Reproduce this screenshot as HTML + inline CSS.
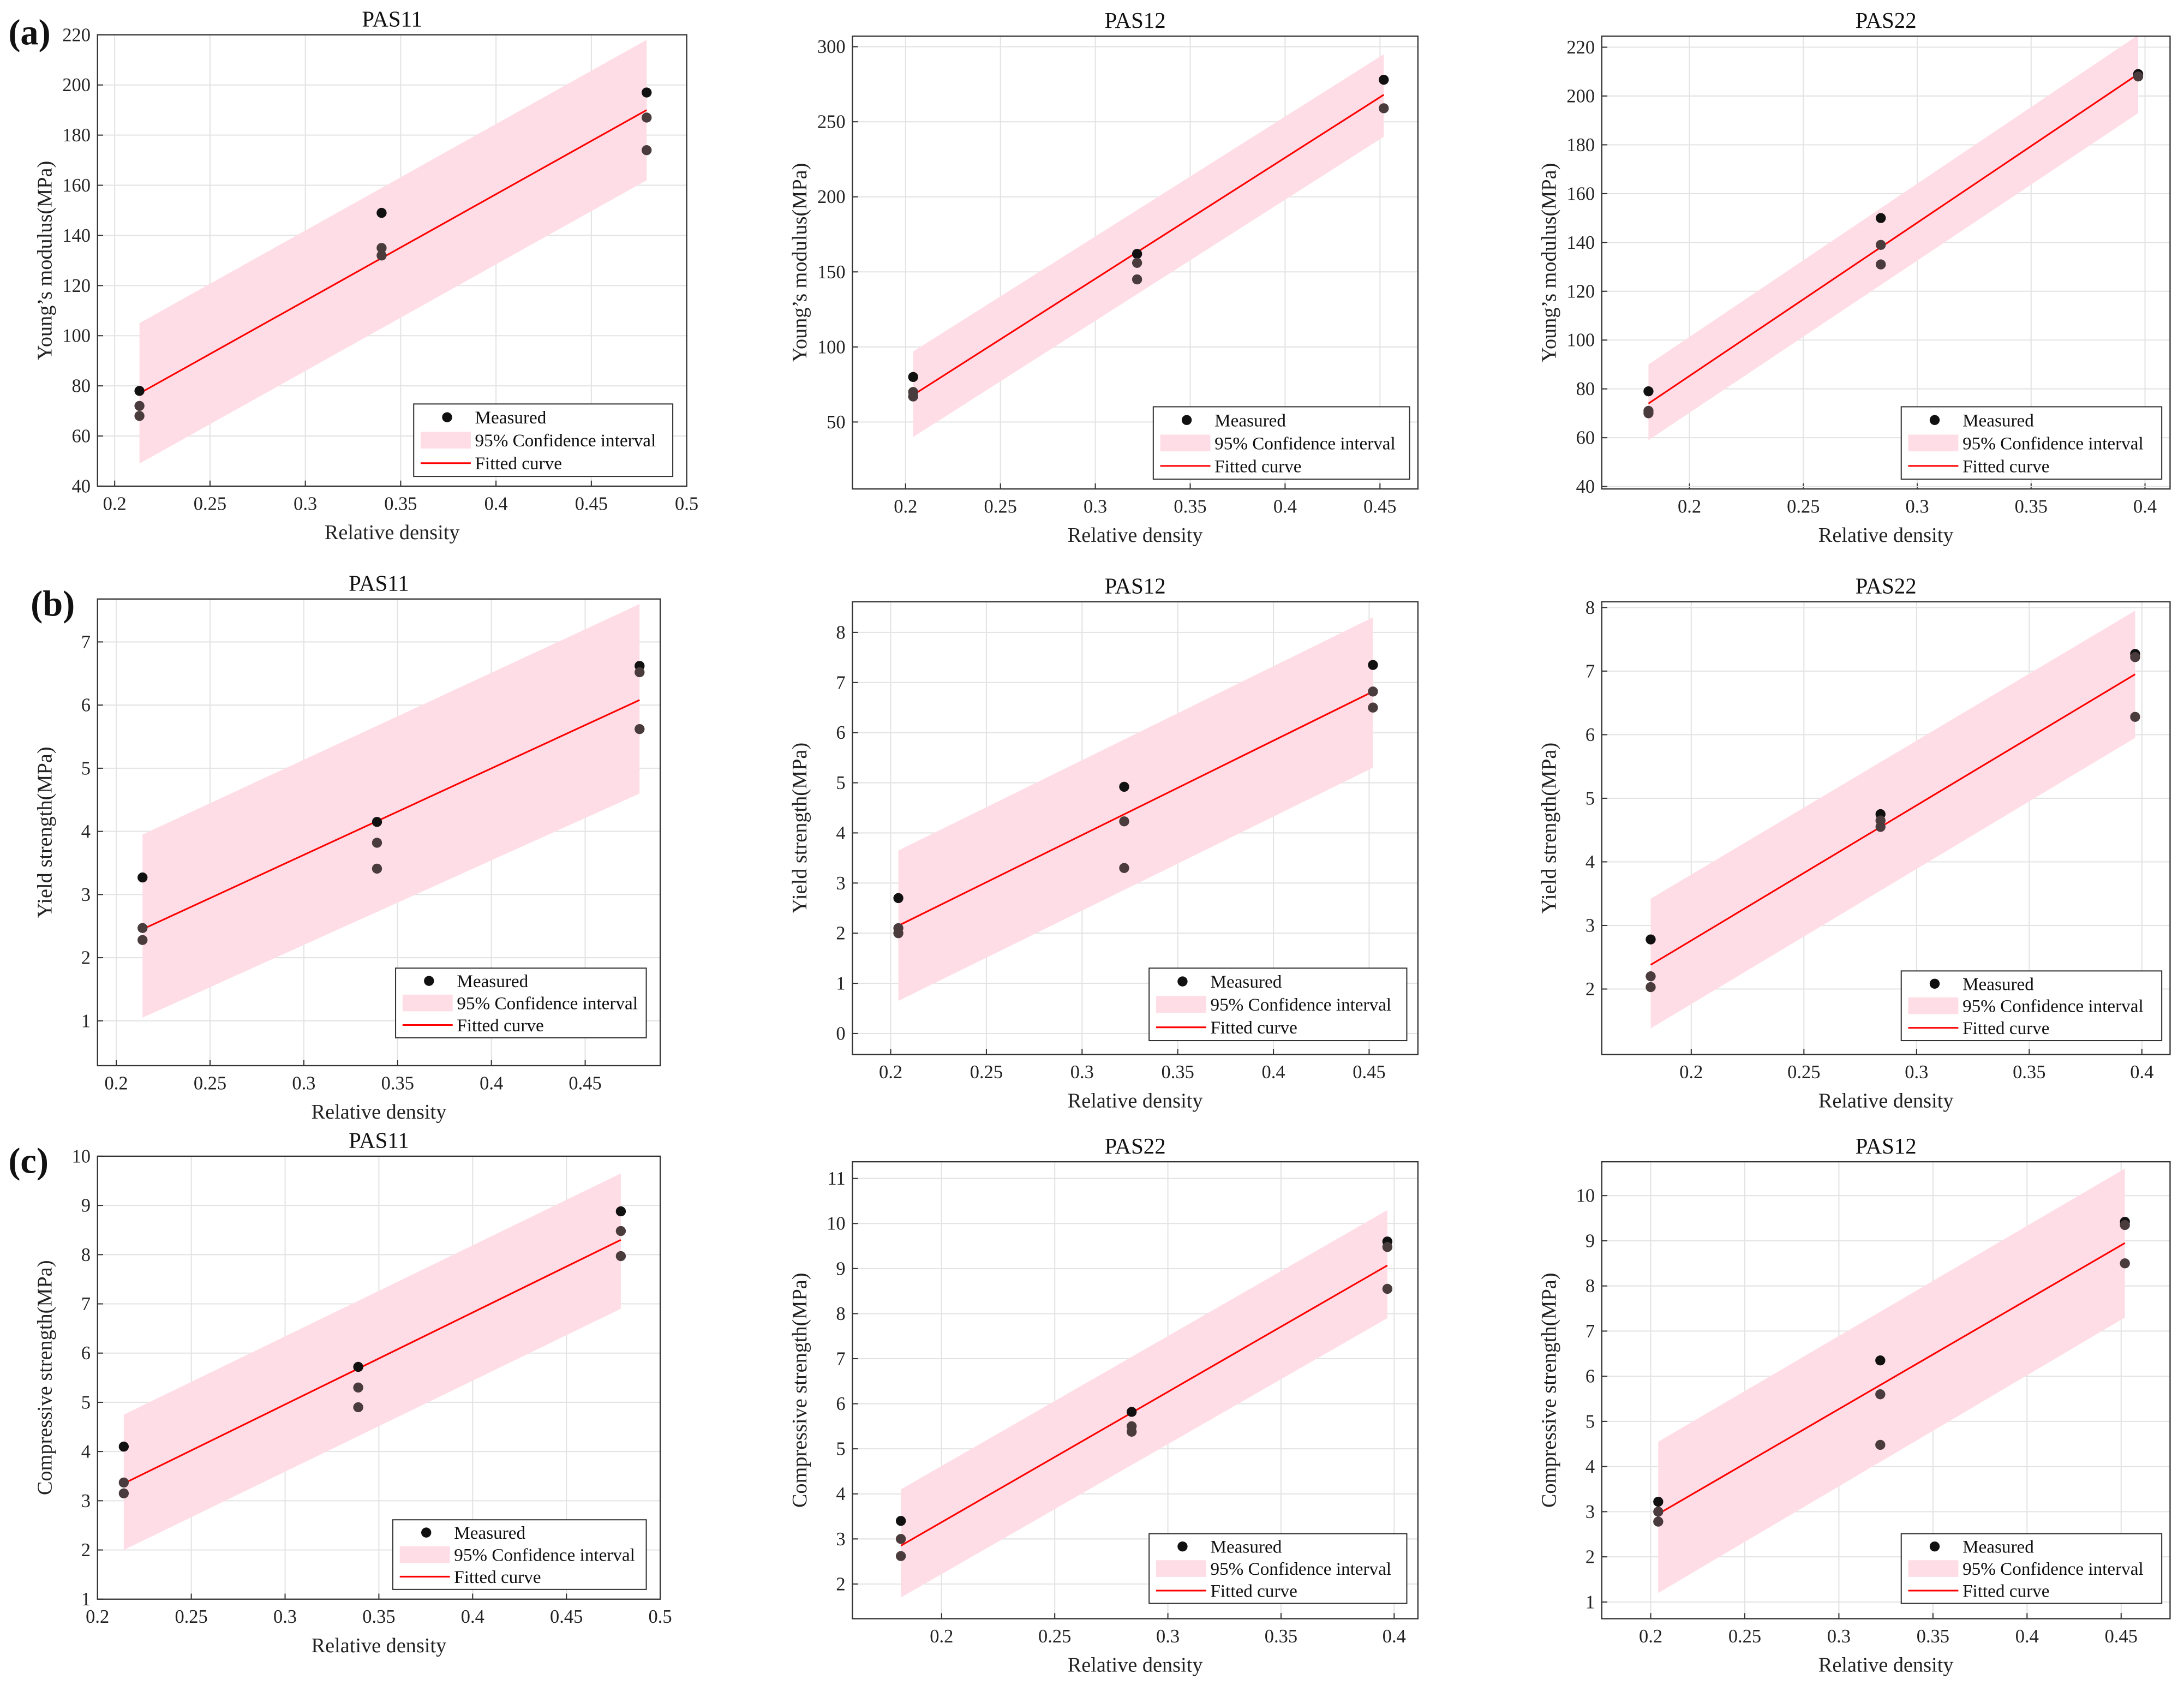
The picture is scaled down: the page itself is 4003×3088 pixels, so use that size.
<!DOCTYPE html>
<html><head><meta charset="utf-8"><style>
html,body{margin:0;padding:0;background:#fff;}
svg{display:block;font-family:"Liberation Serif",serif;}
</style></head><body>
<svg id="fig" width="4003" height="3088" viewBox="0 0 1568 1209.6" xmlns="http://www.w3.org/2000/svg"></svg>
<script>
// ---- data (per panel) ----
const a1X=[0.213,0.213,0.213,0.34,0.34,0.34,0.479,0.479,0.479];
const a1Y=[78,72,68,149,135,132,197,187,174];
const a1Fit=[77,190]; const a1CiLo=[49,162]; const a1CiHi=[105,218]; const a1Rng=[0.213,0.479];
const a2X=[0.204,0.204,0.204,0.322,0.322,0.322,0.452,0.452];
const a2Y=[80,70,67,162,156,145,278,259];
const a2Fit=[68,268]; const a2CiLo=[40,240]; const a2CiHi=[97,295]; const a2Rng=[0.204,0.452];
const a3X=[0.182,0.182,0.182,0.284,0.284,0.284,0.397,0.397];
const a3Y=[79,71,70,150,139,131,209,208];
const a3Fit=[74,209]; const a3CiLo=[59,193]; const a3CiHi=[90,225]; const a3Rng=[0.182,0.397];
const b1X=[0.214,0.214,0.214,0.339,0.339,0.339,0.479,0.479,0.479];
const b1Y=[3.27,2.47,2.28,4.15,3.82,3.41,6.62,6.52,5.62];
const b1Fit=[2.45,6.08]; const b1CiLo=[1.05,4.6]; const b1CiHi=[3.95,7.6]; const b1Rng=[0.214,0.479];
const b2X=[0.204,0.204,0.204,0.322,0.322,0.322,0.452,0.452,0.452];
const b2Y=[2.7,2.1,2.0,4.92,4.23,3.3,7.35,6.82,6.5];
const b2Fit=[2.15,6.82]; const b2CiLo=[0.65,5.3]; const b2CiHi=[3.65,8.3]; const b2Rng=[0.204,0.452];
const b3X=[0.182,0.182,0.182,0.284,0.284,0.284,0.397,0.397,0.397];
const b3Y=[2.78,2.2,2.03,4.75,4.65,4.55,7.27,7.22,6.28];
const b3Fit=[2.38,6.95]; const b3CiLo=[1.38,5.95]; const b3CiHi=[3.42,7.95]; const b3Rng=[0.182,0.397];
const c1X=[0.214,0.214,0.214,0.339,0.339,0.339,0.479,0.479,0.479];
const c1Y=[4.1,3.37,3.15,5.72,5.3,4.9,8.88,8.48,7.97];
const c1Fit=[3.35,8.3]; const c1CiLo=[2.0,6.9]; const c1CiHi=[4.75,9.65]; const c1Rng=[0.214,0.479];
const c2X=[0.182,0.182,0.182,0.284,0.284,0.284,0.397,0.397,0.397];
const c2Y=[3.4,3.0,2.62,5.82,5.5,5.38,9.6,9.48,8.55];
const c2Fit=[2.85,9.07]; const c2CiLo=[1.7,7.9]; const c2CiHi=[4.1,10.3]; const c2Rng=[0.182,0.397];
const c3X=[0.204,0.204,0.204,0.322,0.322,0.322,0.452,0.452,0.452];
const c3Y=[3.22,3.0,2.78,6.35,5.6,4.48,9.42,9.35,8.5];
const c3Fit=[2.95,8.95]; const c3CiLo=[1.2,7.3]; const c3CiHi=[4.55,10.6]; const c3Rng=[0.204,0.452];
// tick labels
const xt05=["0.2","0.25","0.3","0.35","0.4","0.45","0.5"];
const xt045=["0.2","0.25","0.3","0.35","0.4","0.45"];
const xt04=["0.2","0.25","0.3","0.35","0.4"];
const ytA1=["40","60","80","100","120","140","160","180","200","220"];
const ytA2=["50","100","150","200","250","300"];
const ytA3=["40","60","80","100","120","140","160","180","200","220"];
const ytB1=["1","2","3","4","5","6","7"];
const ytB2=["0","1","2","3","4","5","6","7","8"];
const ytB3=["2","3","4","5","6","7","8"];
const ytC1=["1","2","3","4","5","6","7","8","9","10"];
const ytC2=["2","3","4","5","6","7","8","9","10","11"];
const ytC3=["1","2","3","4","5","6","7","8","9","10"];

const NS="http://www.w3.org/2000/svg";
const fig=document.getElementById('fig');
function mk(tag,attrs,parent,text){const e=document.createElementNS(NS,tag);for(const k in attrs)e.setAttribute(k,attrs[k]);if(text!==undefined)e.textContent=text;(parent||fig).appendChild(e);return e;}

function panel(id,title,ylabel,box,xl,yl,xt,yt,X,Y,fit,lo,hi,rng,leg){
  const [L,T,R,B]=box;
  const sx=v=>L+(v-xl[0])/(xl[1]-xl[0])*(R-L);
  const sy=v=>B-(v-yl[0])/(yl[1]-yl[0])*(B-T);
  const g=mk('g',{});
  
  
  xt.forEach(s=>{const v=parseFloat(s);const x=sx(v);
    const l=mk('line',{x1:x,x2:x,y1:T,y2:B,stroke:'#e3e3e3','stroke-width':0.8},g);
    
    mk('line',{x1:x,x2:x,y1:B,y2:B-4,stroke:'#333','stroke-width':0.8},g);
    const t=mk('text',{x:x,y:B+17,'text-anchor':'middle','font-size':13.5,fill:'#222'},g,s);
    });
  yt.forEach(s=>{const v=parseFloat(s);const y=sy(v);
    const l=mk('line',{x1:L,x2:R,y1:y,y2:y,stroke:'#e3e3e3','stroke-width':0.8},g);
    
    mk('line',{x1:L,x2:L+4,y1:y,y2:y,stroke:'#333','stroke-width':0.8},g);
    const t=mk('text',{x:L-5,y:y+4.5,'text-anchor':'end','font-size':13.5,fill:'#222'},g,s);
    });
  const ci=mk('polygon',{points:`${sx(rng[0])},${sy(lo[0])} ${sx(rng[1])},${sy(lo[1])} ${sx(rng[1])},${sy(hi[1])} ${sx(rng[0])},${sy(hi[0])}`,fill:'#ffdde6'},g);
  
  const fl=mk('line',{x1:sx(rng[0]),y1:sy(fit[0]),x2:sx(rng[1]),y2:sy(fit[1]),stroke:'#ff0000','stroke-width':1.2},g);
  
  X.forEach((xv,i)=>{const c=mk('circle',{cx:sx(xv),cy:sy(Y[i]),r:3.6,fill:i%3===0?'#111':'#4a3c3c'},g);
    });
  const fr=mk('rect',{x:L,y:T,width:R-L,height:B-T,fill:'none',stroke:'#333','stroke-width':0.9},g);
  
  const tt=mk('text',{x:(L+R)/2,y:T-6,'text-anchor':'middle','font-size':16,fill:'#111'},g,title);
  
  const xlab=mk('text',{x:(L+R)/2,y:B+38,'text-anchor':'middle','font-size':15,fill:'#222'},g,'Relative density');
  
  const yx=L-33, yy=(T+B)/2;
  const ylab=mk('text',{x:yx,y:yy,'text-anchor':'middle','font-size':15,fill:'#222',transform:`rotate(-90 ${yx} ${yy})`},g,ylabel);
  
  const [lx,ly,lr,lb]=leg;
  const lg=mk('g',{},g);
  
  mk('rect',{x:lx,y:ly,width:lr-lx,height:lb-ly,fill:'#fff',stroke:'#333','stroke-width':0.8},lg);
  const rh=(lb-ly)/3;
  mk('circle',{cx:lx+24,cy:ly+rh*0.55,r:3.6,fill:'#111'},lg);
  mk('text',{x:lx+44,y:ly+rh*0.55+4.5,'font-size':13,fill:'#111'},lg,'Measured');
  mk('rect',{x:lx+5,y:ly+rh*1.5-6,width:36,height:12,fill:'#ffdde6'},lg);
  mk('text',{x:lx+44,y:ly+rh*1.5+4.5,'font-size':13,fill:'#111'},lg,'95% Confidence interval');
  mk('line',{x1:lx+5,x2:lx+41,y1:ly+rh*2.45,y2:ly+rh*2.45,stroke:'#ff0000','stroke-width':1.2},lg);
  mk('text',{x:lx+44,y:ly+rh*2.45+4.5,'font-size':13,fill:'#111'},lg,'Fitted curve');
}
const YM="Young’s modulus(MPa)",YS="Yield strength(MPa)",CS="Compressive strength(MPa)";
panel('a1','PAS11',YM,[70,25,493,349],[0.191,0.5],[40,220],xt05,ytA1,a1X,a1Y,a1Fit,a1CiLo,a1CiHi,a1Rng,[297,290,483,342]);
panel('a2','PAS12',YM,[612,26,1018,351],[0.172,0.47],[5.4,307],xt045,ytA2,a2X,a2Y,a2Fit,a2CiLo,a2CiHi,a2Rng,[828,292,1012,344]);
panel('a3','PAS22',YM,[1150,26,1558,351],[0.1615,0.411],[39,224.5],xt04,ytA3,a3X,a3Y,a3Fit,a3CiLo,a3CiHi,a3Rng,[1365,292,1552,344]);
panel('b1','PAS11',YS,[70,430,474,765],[0.19,0.49],[0.29,7.68],xt045,ytB1,b1X,b1Y,b1Fit,b1CiLo,b1CiHi,b1Rng,[284,695,464,745]);
panel('b2','PAS12',YS,[612,432,1018,757],[0.18,0.4755],[-0.42,8.61],xt045,ytB2,b2X,b2Y,b2Fit,b2CiLo,b2CiHi,b2Rng,[825,695,1010,747]);
panel('b3','PAS22',YS,[1150,432,1558,757],[0.1603,0.4125],[0.97,8.09],xt04,ytB3,b3X,b3Y,b3Fit,b3CiLo,b3CiHi,b3Rng,[1365,697,1552,747]);
panel('c1','PAS11',CS,[70,830,474,1148],[0.2,0.5],[1,10],xt05,ytC1,c1X,c1Y,c1Fit,c1CiLo,c1CiHi,c1Rng,[282,1091,464,1141]);
panel('c2','PAS22',CS,[612,834,1018,1162],[0.1606,0.4105],[1.23,11.37],xt04,ytC2,c2X,c2Y,c2Fit,c2CiLo,c2CiHi,c2Rng,[825,1101,1010,1151]);
panel('c3','PAS12',CS,[1150,834,1558,1162],[0.174,0.476],[0.63,10.75],xt045,ytC3,c3X,c3Y,c3Fit,c3CiLo,c3CiHi,c3Rng,[1365,1101,1552,1151]);
[['(a)',6,32],['(b)',22,442],['(c)',6,842]].forEach(p=>{
  const t=mk('text',{x:p[1],y:p[2],'font-size':26,'font-weight':'bold',fill:'#111'},fig,p[0]);
  
  
});
</script>
</body></html>
